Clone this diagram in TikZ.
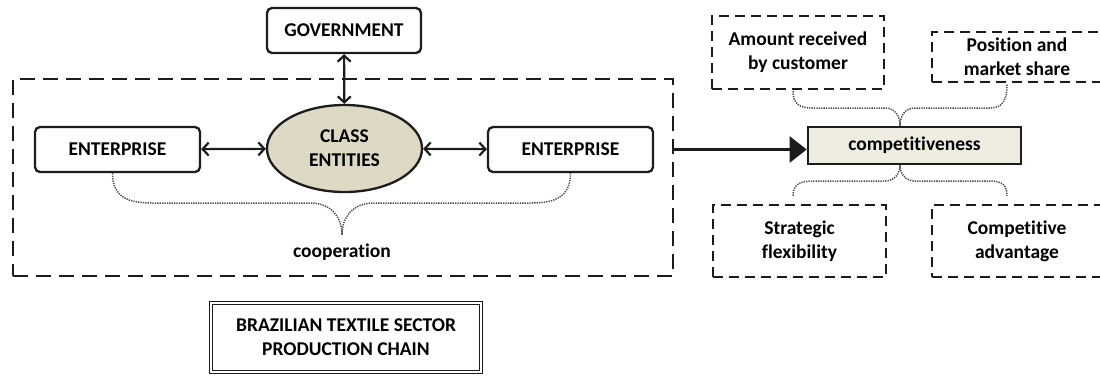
\documentclass[tikz,border=0pt]{standalone}
\usepackage{fontspec}
\setmainfont{Carlito}[Ligatures=NoCommon]
\usepackage{tikz}
\usetikzlibrary{calc,arrows.meta,shapes.geometric}
\definecolor{ink}{HTML}{1C1C1C}
\definecolor{tan}{HTML}{DDD9C4}
\definecolor{paper}{HTML}{EEECE1}
\definecolor{dotc}{HTML}{4A4A4A}
\tikzset{
  rbox/.style={draw=ink, line width=2.3pt, rounded corners=5pt, fill=white, inner sep=0pt, minimum height=45pt},
  entity/.style={ellipse, draw=ink, line width=2.3pt, fill=tan, inner sep=0pt, align=center, minimum width=155pt, minimum height=87pt},
  chainbox/.style={draw=ink, line width=2.8pt, dash pattern=on 15pt off 8pt, inner sep=0pt},
  dbox/.style={draw=ink, line width=2.5pt, dash pattern=on 10pt off 6pt, inner sep=0pt, align=center},
  compbox/.style={draw=ink, line width=2.6pt, fill=paper, inner sep=0pt, minimum width=213pt, minimum height=37pt},
  titlebox/.style={draw=ink, line width=1.3pt, double=white, double distance=1.6pt, inner sep=0pt, align=center, minimum width=270pt, minimum height=69pt},
  both/.style={draw=ink, line width=2.2pt, {Straight Barb[length=6pt,width=13pt]}-{Straight Barb[length=6pt,width=13pt]}},
  flow/.style={draw=ink, line width=2.3pt, -{Triangle[length=17pt,width=26pt]}},
  dotl/.style={draw=dotc, line width=1.5pt, dash pattern=on 1.3pt off 1.1pt}
}
\begin{document}
\begin{tikzpicture}[x=1pt, y=-1pt, font=\bfseries\fontsize{19.5}{24}\selectfont]
  \clip (0,0) rectangle (1100,376);
  \fill[white] (0,0) rectangle (1100,376);

  % production chain
  \node[chainbox, minimum width=660pt, minimum height=197pt] (chain) at (343,177.5) {};
  \node[rbox, minimum width=154pt] (gov) at (344,30.5) {GOVERNMENT};
  \node[entity] (cls) at (344.5,148.5) {CLASS\\ENTITIES};
  \node[rbox, minimum width=165pt] (entl) at (117.5,149.5) {ENTERPRISE};
  \node[rbox, minimum width=165pt] (entr) at (570.5,149.5) {ENTERPRISE};
  \node (coop) at (342,252) {cooperation};
  \coordinate (ctip) at (342,235);
  \node[titlebox] (prod) at (346,337.5) {BRAZILIAN TEXTILE SECTOR\\PRODUCTION CHAIN};

  \draw[both] (gov) -- (cls);
  \draw[both] (entl) -- (cls);
  \draw[both] (cls) -- (entr);

  \draw[dotl] ($(entl.south)+(-5,0)$) .. controls +(0,24) and (128,203) .. (152,203) -- (310,203)
    .. controls (332,203) and (342,218) .. (ctip)
    .. controls (342,218) and (352,203) .. (374,203) -- (532,203)
    .. controls (556,203) and (570.5,196) .. (entr.south);

  % competitiveness
  \node[compbox] (comp) at (914.5,145.5) {competitiveness};
  \node[dbox, minimum width=172pt, minimum height=73pt] (amt) at (798,52.5) {Amount received\\by customer};
  \node[dbox, minimum width=170pt, minimum height=50pt] (pos) at (1017,57) {Position and\\market share};
  \node[dbox, minimum width=173pt, minimum height=72pt] (strat) at (799.5,241) {Strategic\\flexibility};
  \node[dbox, minimum width=170pt, minimum height=72pt] (adv) at (1017,241) {Competitive\\advantage};
  \coordinate (ttip) at ($(comp.north)+(-14.5,0)$);
  \coordinate (btip) at ($(comp.south)+(-14.5,0)$);

  \draw[flow] (entr.east -| chain.east) -- (entr.east -| comp.west);

  \draw[dotl] ($(amt.south)+(-5,1)$) .. controls +(0,13) and (800,108) .. (812,108) -- (885,108)
    .. controls (895,108) and (900,116) .. (ttip)
    .. controls (900,116) and (905,108) .. (915,108) -- (990,108)
    .. controls (1003,108) and (1007,100) .. ($(pos.south)+(-10,1)$);
  \draw[dotl] ($(strat.north)+(-6.5,-8)$) .. controls +(0,-11) and (800,181) .. (812,181) -- (885,181)
    .. controls (895,181) and (900,173) .. (btip)
    .. controls (900,173) and (905,181) .. (915,181) -- (990,181)
    .. controls (1003,181) and (1007,186) .. ($(adv.north)+(-10,-8)$);
\end{tikzpicture}
\end{document}
